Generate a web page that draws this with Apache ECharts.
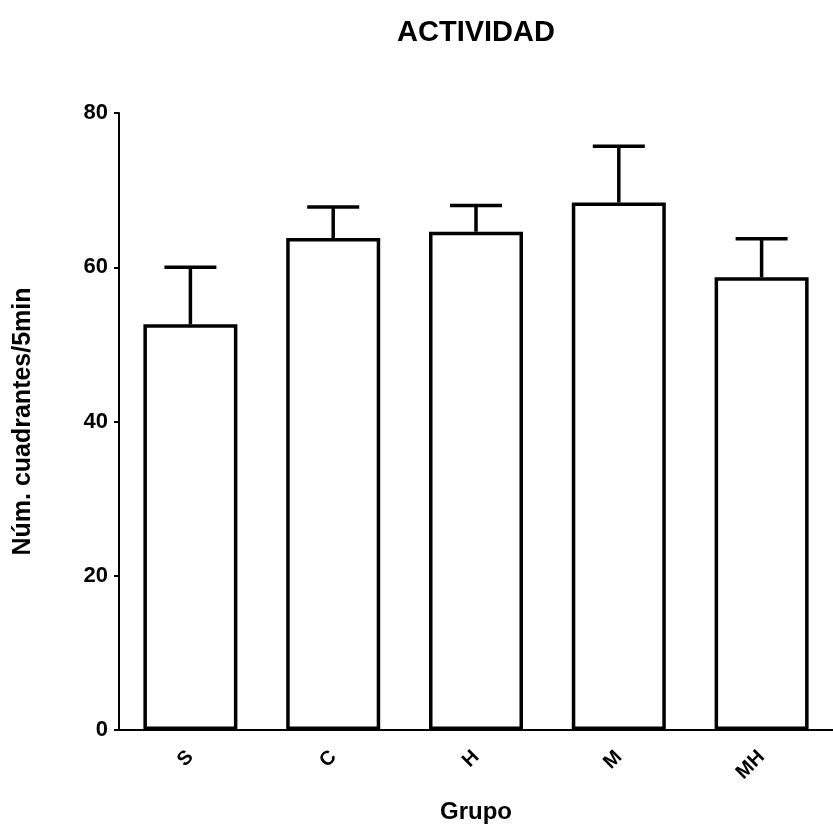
<!DOCTYPE html>
<html><head><meta charset="utf-8">
<script src="https://cdn.jsdelivr.net/npm/echarts@6/dist/echarts.min.js"></script>
<style>html,body{margin:0;padding:0;background:#fff}#c{width:833px;height:829px}</style>
</head><body><div id="c"></div>
<script>
const categories = ['S', 'C', 'H', 'M', 'MH'];
const means = [52.6, 63.8, 64.6, 68.4, 58.7];
const upperErr = [60.0, 67.8, 68.0, 75.7, 63.7];
const yTicks = [0, 20, 40, 60, 80];

const chart = echarts.init(document.getElementById('c'));
const font = 'Liberation Sans, Arial, sans-serif';
chart.setOption({
  animation: false,
  title: { text: 'ACTIVIDAD', left: 471, top: 13, textAlign: 'center',
    textStyle: { fontFamily: font, fontWeight: 'bold', fontSize: 29, color: '#000' } },
  grid: { left: 119, right: -3, top: 113, bottom: 96, containLabel: false },
  xAxis: {
    type: 'category', data: categories, boundaryGap: true,
    name: 'Grupo', nameLocation: 'middle', nameGap: 70,
    nameTextStyle: { fontFamily: font, fontWeight: 'bold', fontSize: 24, color: '#000' },
    axisLine: { lineStyle: { color: '#000', width: 2 } },
    axisTick: { alignWithLabel: true, length: 6, lineStyle: { color: '#000', width: 2 } },
    axisLabel: { rotate: 45, margin: 24, fontFamily: font, fontWeight: 'bold', fontSize: 20, color: '#000' }
  },
  yAxis: {
    type: 'value', min: yTicks[0], max: yTicks[yTicks.length - 1], interval: 20,
    name: 'Núm. cuadrantes/5min', nameLocation: 'middle', nameGap: 83,
    nameTextStyle: { fontFamily: font, fontWeight: 'bold', fontSize: 25, color: '#000' },
    axisLine: { show: true, lineStyle: { color: '#000', width: 2 } },
    axisTick: { show: true, length: 5, lineStyle: { color: '#000', width: 2 } },
    splitLine: { show: false },
    axisLabel: { margin: 11, fontFamily: font, fontWeight: 'bold', fontSize: 22, color: '#000' }
  },
  series: [
    { type: 'bar', data: means, barWidth: 94,
      itemStyle: { color: '#fff', borderColor: '#000', borderWidth: 3.5 }, z: 2 },
    { type: 'custom', z: 3,
      data: categories.map((c, i) => [i, means[i], upperErr[i]]),
      renderItem: function (params, api) {
        const x = api.value(0);
        const lo = api.coord([x, api.value(1)]);
        const hi = api.coord([x, api.value(2)]);
        const hw = 26;
        return { type: 'group', children: [
          { type: 'line', shape: { x1: lo[0], y1: lo[1], x2: hi[0], y2: hi[1] },
            style: { stroke: '#000', lineWidth: 3.5 } },
          { type: 'line', shape: { x1: hi[0] - hw, y1: hi[1], x2: hi[0] + hw, y2: hi[1] },
            style: { stroke: '#000', lineWidth: 3.5 } }
        ] };
      }
    }
  ]
});
</script></body></html>
